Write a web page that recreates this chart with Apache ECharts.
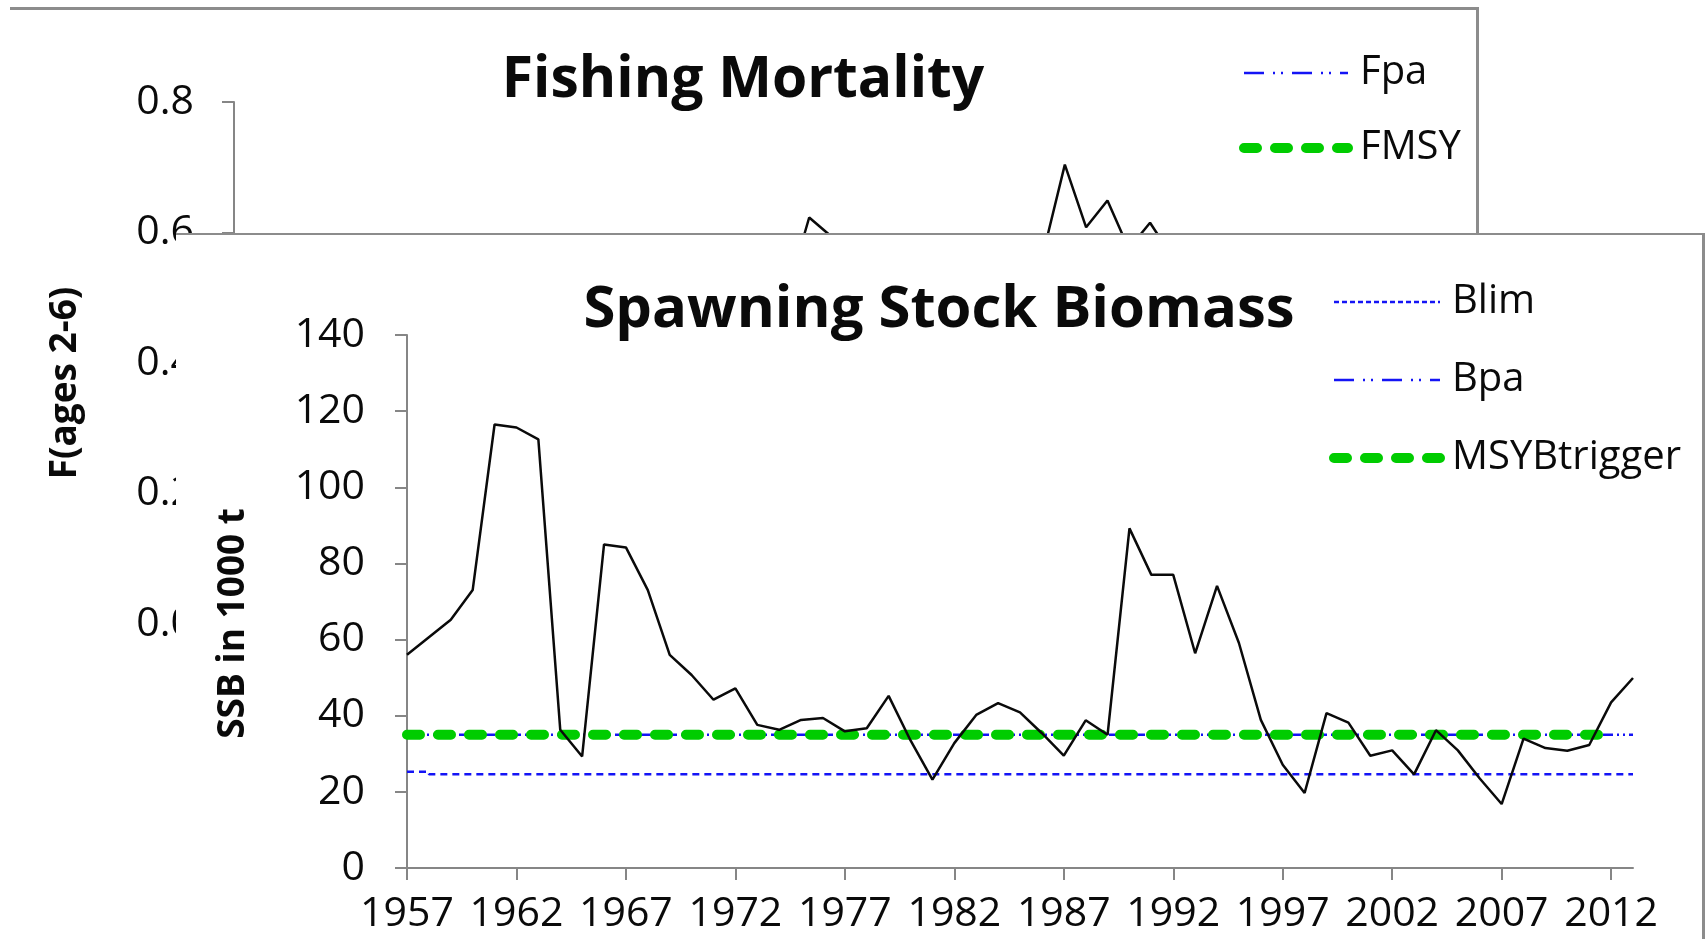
<!DOCTYPE html>
<html lang="en">
<head>
  <meta charset="UTF-8">
  <title>Fishing Mortality / Spawning Stock Biomass</title>
  <script src="https://cdn.jsdelivr.net/npm/echarts@6.0.0/dist/echarts.min.js"></script>
  <style>
    html, body { margin: 0; padding: 0; background: #fff; }
    body { width: 1706px; height: 939px; position: relative; overflow: hidden; }
    /* two overlapping panels, the SSB one sits on top */
    .panel-top { position: absolute; left: 10px; top: 7px; width: 1466px; height: 940px;
      border-top: 3px solid #8c8c8c; border-right: 3px solid #8c8c8c; }
    .panel-bottom { position: absolute; left: 176px; top: 233px; width: 1526px; height: 706px;
      background: #fff; border-top: 2px solid #8c8c8c; border-right: 3px solid #8c8c8c; }
    .chart { position: absolute; left: 0; top: 0; width: 100%; height: 100%; }
  </style>
</head>
<body>
  <div class="panel-top"><div class="chart" id="chart-f"></div></div>
  <div class="panel-bottom"><div class="chart" id="chart-ssb"></div></div>
  <script>
    // data
    const years = ['1957','1958','1959','1960','1961','1962','1963','1964','1965','1966',
      '1967','1968','1969','1970','1971','1972','1973','1974','1975','1976',
      '1977','1978','1979','1980','1981','1982','1983','1984','1985','1986',
      '1987','1988','1989','1990','1991','1992','1993','1994','1995','1996',
      '1997','1998','1999','2000','2001','2002','2003','2004','2005','2006',
      '2007','2008','2009','2010','2011','2012','2013'];

    // SSB in 1000 t
    const ssb = [56.0, 60.6, 65.2, 73.0, 116.5, 115.7, 112.6, 36.3, 29.3, 85.0,
      84.2, 73.0, 56.0, 50.7, 44.2, 47.2, 37.6, 36.3, 38.9, 39.4,
      35.9, 36.7, 45.2, 33.5, 23.2, 32.8, 40.2, 43.3, 40.9, 35.4,
      29.5, 38.8, 35.0, 89.2, 77.0, 77.0, 56.4, 74.1, 59.1, 38.9,
      27.1, 19.7, 40.7, 38.2, 29.5, 30.9, 24.6, 36.2, 30.9, 23.5,
      16.8, 34.0, 31.5, 30.8, 32.3, 43.5, 49.9];

    // F(ages 2-6)
    const fishingMortality = [0.28, 0.30, 0.33, 0.31, 0.35, 0.38, 0.42, 0.45, 0.40, 0.44,
      0.47, 0.50, 0.48, 0.52, 0.55, 0.53, 0.50, 0.54, 0.56, 0.52,
      0.55, 0.50, 0.53, 0.57, 0.52, 0.49, 0.51, 0.623, 0.595, 0.54,
      0.50, 0.55, 0.52, 0.48, 0.50, 0.53, 0.55, 0.52, 0.57, 0.704,
      0.608, 0.649, 0.575, 0.615, 0.565, 0.55, 0.52, 0.56, 0.50, 0.53,
      0.47, 0.42, 0.38, 0.33, 0.30, 0.28, 0.26];

    // reference points, [year, level]
    const fpa = [['1957', 0.55], ['2013', 0.55]];
    const fmsy = [['1957', 0.26], ['2013', 0.26]];
    const blim = [['1957', 25.3], ['1958', 24.6], ['2013', 24.6]];
    const bpa = [['1957', 35], ['2013', 35]];
    const msyBtrigger = [['1957', 35], ['2012', 35]];

    const FONT = 'Open Sans';
    const GREY = '#868686';
    const BLUE = '#1414f5';
    const GREEN = '#00cc00';
    const INK = '#0a0a0a';

    const labelStyle = { fontFamily: FONT, fontSize: 41, color: INK };
    const nameStyle = { fontFamily: FONT, fontSize: 37, fontWeight: 'bold', color: INK };
    const legendText = { fontFamily: FONT, fontSize: 40, color: INK, lineHeight: 44, padding: [0, 0, 0, 7] };

    const dashDotDot = [20, 9, 2, 6, 2, 9];
    const greenDash = [13, 18];

    function xAxisCfg() {
      return {
        type: 'category', data: years, boundaryGap: false,
        axisLine: { lineStyle: { color: GREY, width: 2 } },
        axisTick: { interval: 4, length: 12, lineStyle: { color: GREY, width: 2 } },
        axisLabel: Object.assign({ interval: 4, margin: 26 }, labelStyle),
        splitLine: { show: false }
      };
    }

    // Fishing mortality (back panel)
    const fChart = echarts.init(document.getElementById('chart-f'));
    fChart.setOption({
      animation: false,
      title: {
        text: 'Fishing Mortality', left: 'center', top: 42, padding: 0,
        textStyle: { fontFamily: FONT, fontSize: 57, fontWeight: 'bold', color: INK }
      },
      legend: {
        orient: 'vertical', left: 1224, top: 36, itemWidth: 104, itemHeight: 14, itemGap: 31,
        selectedMode: false, itemStyle: { opacity: 0 }, textStyle: legendText,
        data: [
          { name: 'Fpa', lineStyle: { color: BLUE, width: 2.5, type: dashDotDot } },
          { name: 'FMSY', lineStyle: { color: GREEN, width: 10, type: greenDash, cap: 'round' } }
        ]
      },
      grid: { left: 224, right: 49, top: 92, bottom: 326, outerBoundsMode: 'none' },
      xAxis: xAxisCfg(),
      yAxis: {
        type: 'value', min: 0, max: 0.8, interval: 0.2,
        name: 'F(ages 2-6)', nameLocation: 'middle', nameRotate: 90, nameGap: 150,
        nameTextStyle: Object.assign({ padding: [0, 40, 0, 0] }, nameStyle),
        axisLine: { show: true, lineStyle: { color: GREY, width: 2 } },
        axisTick: { show: true, length: 12, lineStyle: { color: GREY, width: 2 } },
        axisLabel: Object.assign({ margin: 40, formatter: v => v.toFixed(1) }, labelStyle),
        splitLine: { show: false }
      },
      series: [
        { name: 'Fpa', type: 'line', data: fpa, symbol: 'none', silent: true, color: BLUE,
          lineStyle: { color: BLUE, width: 2.5, type: dashDotDot } },
        { name: 'FMSY', type: 'line', data: fmsy, symbol: 'none', silent: true, color: GREEN,
          lineStyle: { color: GREEN, width: 10, type: greenDash, cap: 'round' } },
        { name: 'F', type: 'line', data: fishingMortality, symbol: 'none', silent: true, color: INK,
          lineStyle: { color: INK, width: 2.5 }, z: 5 }
      ]
    });

    // Spawning stock biomass (front panel)
    const ssbChart = echarts.init(document.getElementById('chart-ssb'));
    ssbChart.setOption({
      animation: false,
      title: {
        text: 'Spawning Stock Biomass', left: 'center', top: 46, padding: [0, 12, 0, 0],
        textStyle: { fontFamily: FONT, fontSize: 58, fontWeight: 'bold', color: INK }
      },
      legend: {
        orient: 'vertical', left: 1148, top: 40, itemWidth: 106, itemHeight: 14, itemGap: 34,
        selectedMode: false, itemStyle: { opacity: 0 }, textStyle: legendText,
        data: [
          { name: 'Blim', lineStyle: { color: BLUE, width: 2.5, type: [5, 3] } },
          { name: 'Bpa', lineStyle: { color: BLUE, width: 2.5, type: dashDotDot } },
          { name: 'MSYBtrigger', lineStyle: { color: GREEN, width: 10, type: greenDash, cap: 'round' } }
        ]
      },
      grid: { left: 231, right: 69, top: 100, bottom: 73, outerBoundsMode: 'none' },
      xAxis: xAxisCfg(),
      yAxis: {
        type: 'value', min: 0, max: 140, interval: 20,
        name: 'SSB in 1000 t', nameLocation: 'middle', nameRotate: 90, nameGap: 155,
        nameTextStyle: Object.assign({ padding: [0, 44, 0, 0] }, nameStyle),
        axisLine: { show: true, lineStyle: { color: GREY, width: 2 } },
        axisTick: { show: true, length: 12, lineStyle: { color: GREY, width: 2 } },
        axisLabel: Object.assign({ margin: 42 }, labelStyle),
        splitLine: { show: false }
      },
      series: [
        { name: 'Blim', type: 'line', data: blim, step: 'end', symbol: 'none', silent: true, color: BLUE,
          lineStyle: { color: BLUE, width: 2.5, type: [7, 5] }, z: 2 },
        { name: 'Bpa', type: 'line', data: bpa, symbol: 'none', silent: true, color: BLUE,
          lineStyle: { color: BLUE, width: 2.5, type: [10, 4, 2, 4, 2, 4] }, z: 2 },
        { name: 'MSYBtrigger', type: 'line', data: msyBtrigger, symbol: 'none', silent: true, color: GREEN,
          lineStyle: { color: GREEN, width: 10, type: greenDash, cap: 'round' }, z: 3 },
        { name: 'SSB', type: 'line', data: ssb, symbol: 'none', silent: true, color: INK,
          lineStyle: { color: INK, width: 2.5 }, z: 4 }
      ]
    });
  </script>
</body>
</html>
